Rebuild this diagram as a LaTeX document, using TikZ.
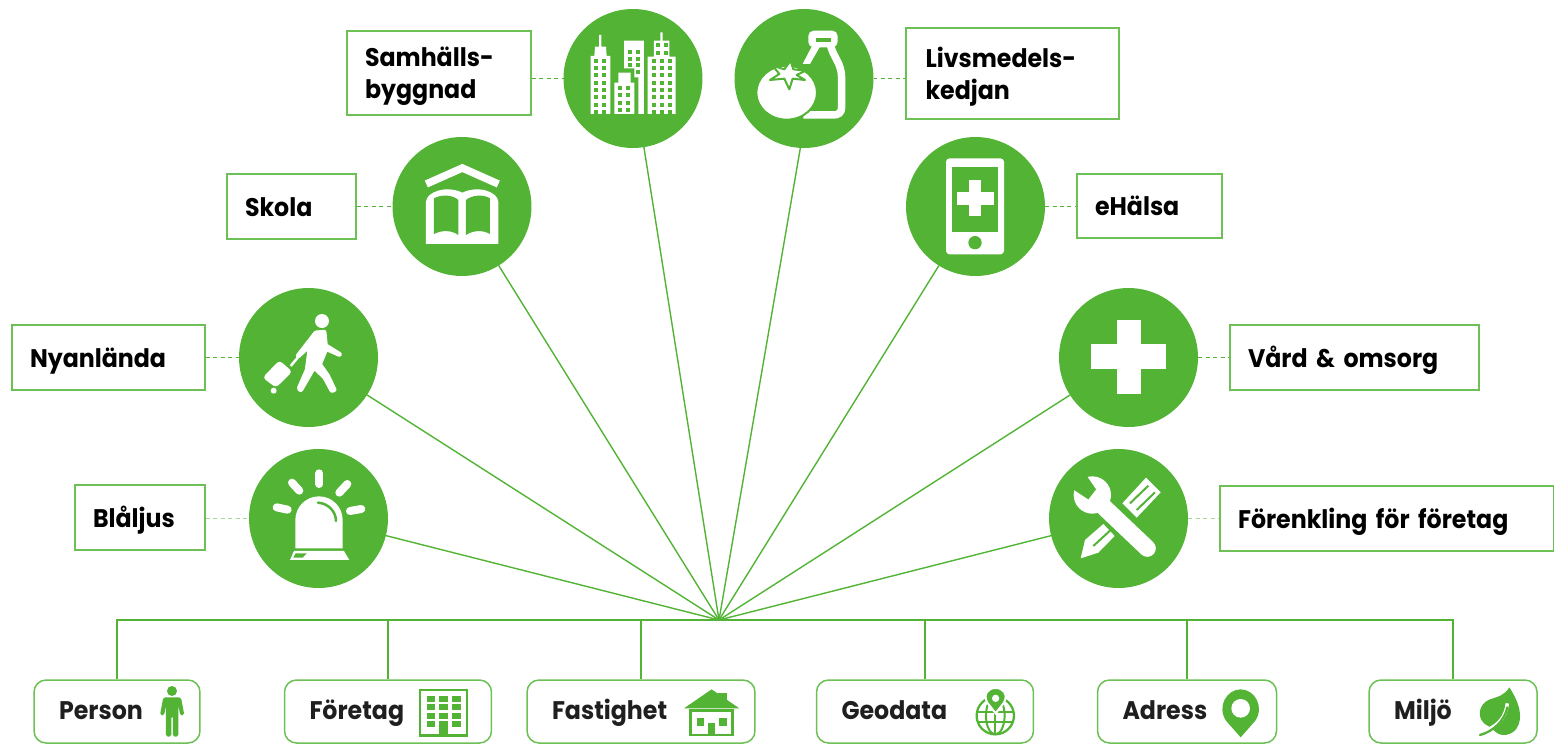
\documentclass[tikz,border=0pt]{standalone}
\usepackage{fontspec}
\setmainfont{Poppins}[FakeStretch=0.93]
\usetikzlibrary{calc}
\definecolor{leafgreen}{HTML}{52B335}
\definecolor{boxgreen}{HTML}{6CC055}
\definecolor{palegreen}{HTML}{A9D99A}
\tikzset{
	areadot/.style={circle, fill=leafgreen, minimum size=2.78cm, inner sep=0pt, outer sep=0pt},
	labelbox/.style={draw=boxgreen, line width=0.04cm, align=left, text width=#1, inner xsep=0.36cm, inner ysep=0pt, font=\bfseries\fontsize{14.5}{18.2}\selectfont},
	onerow/.style={minimum height=1.3cm, text height=0.6cm, text depth=0.22cm},
	databox/.style={draw=boxgreen, line width=0.03cm, rounded corners=0.24cm, align=left, text width=#1, inner xsep=0.5cm, inner ysep=0pt, minimum height=1.26cm, text height=0.5cm, text depth=0.2cm, text=black!88, font=\bfseries\fontsize{14.5}{18.2}\selectfont},
	spoke/.style={draw=leafgreen, line width=0.028cm},
	dotted link/.style={draw=leafgreen, line width=0.024cm, dash pattern=on 0.08cm off 0.07cm},
	pale link/.style={draw=palegreen, line width=0.024cm, dash pattern=on 0.08cm off 0.07cm},
}

\begin{document}
\begin{tikzpicture}[x=0.02cm, y=-0.02cm]
	%%%%% START %%%%%
	\useasboundingbox (0, 0) rectangle (1554, 744);

	\coordinate (hub) at (719, 620);

	\node[areadot] (samhall) at (633, 78.5) {};
	\node[areadot] (livsmedel) at (804, 78.5) {};
	\node[areadot] (skola) at (462, 206.5) {};
	\node[areadot] (ehalsa) at (975.5, 206.5) {};
	\node[areadot] (nyanlanda) at (308.5, 357.5) {};
	\node[areadot] (vard) at (1128.5, 357.5) {};
	\node[areadot] (blaljus) at (318.5, 518.5) {};
	\node[areadot] (forenkling) at (1118.5, 518.5) {};

	\node[labelbox=2.96cm, minimum height=1.68cm] (samhallbox) at (439, 73) {\rule{0pt}{0.53cm}Samhälls-\\byggnad};
	\node[labelbox=3.54cm, minimum height=1.82cm] (livsmedelbox) at (1012.5, 73.5) {\rule{0pt}{0.53cm}\hspace*{0.03cm}Livsmedels-\\\hspace*{0.03cm}kedjan};
	\node[labelbox=1.86cm, onerow] (skolabox) at (291.5, 206.5) {Skola};
	\node[labelbox=2.18cm, onerow] (ehalsabox) at (1149.5, 206) {eHälsa};
	\node[labelbox=3.14cm, onerow] (nyanlandabox) at (108.5, 357.5) {Nyanlända};
	\node[labelbox=4.26cm, onerow] (vardbox) at (1354.5, 357.5) {Vård \& omsorg};
	\node[labelbox=1.88cm, onerow] (blaljusbox) at (140, 517.5) {Blåljus};
	\node[labelbox=5.96cm, onerow] (forenklingbox) at (1387, 518.5) {Förenkling för företag};

	\node[databox=2.32cm] (person) at (117, 711.5) {Person};
	\node[databox=3.14cm] (foretag) at (388, 711.5) {Företag};
	\node[databox=3.56cm] (fastighet) at (641, 711.5) {Fastighet};
	\node[databox=3.34cm] (geodata) at (925, 711.5) {Geodata};
	\node[databox=2.58cm] (adress) at (1187, 711.5) {Adress};
	\node[databox=2.36cm] (miljo) at (1453, 711.5) {Miljö};

	\draw[spoke] (samhall) -- (hub);
	\draw[spoke] (livsmedel.267) -- (hub);
	\draw[spoke] (skola) -- (hub);
	\draw[spoke] (ehalsa) -- (hub);
	\draw[spoke] (nyanlanda) -- (hub);
	\draw[spoke] (vard) -- (hub);
	\draw[spoke] (blaljus) -- (hub);
	\draw[spoke] (forenkling) -- (hub);

	\draw[spoke] (person.north) |- (hub);
	\draw[spoke] (foretag.north) |- (hub);
	\draw[spoke] (fastighet.north) |- (hub);
	\draw[spoke] (geodata.north) |- (hub);
	\draw[spoke] (adress.north) |- (hub);
	\draw[spoke] (miljo.north) |- (hub);

	\draw[dotted link] (samhallbox.east |- samhall.west) -- (samhall.west);
	\draw[dotted link] (livsmedel.east) -- (livsmedelbox.west |- livsmedel.east);
	\draw[dotted link] (skolabox.east |- skola.west) -- (skola.west);
	\draw[dotted link] (ehalsa.east) -- (ehalsabox.west |- ehalsa.east);
	\draw[dotted link] (nyanlandabox.east |- nyanlanda.west) -- (nyanlanda.west);
	\draw[dotted link] (vard.east) -- (vardbox.west |- vard.east);
	\draw[pale link] (blaljusbox.east |- blaljus.west) -- (blaljus.west);
	\draw[pale link] (forenkling.east) -- (forenklingbox.west |- forenkling.east);

	% skyline
	\begin{scope}[shift={(540, 0)}, scale=0.3333]
		\fill[white] (152, 342) -- (152, 168) -- (163, 168) -- (165, 140) -- (177, 140) -- (177, 105) -- (184, 105) -- (184, 140) -- (198, 140) -- (200, 168) -- (211, 168) -- (211, 342) -- cycle;
		\fill[white] (223, 342) -- (223, 248) -- (235, 248) -- (235, 218) -- (272, 218) -- (272, 248) -- (283, 248) -- (283, 342) -- cycle;
		\fill[white] (252, 122) -- (312, 122) -- (312, 342) -- (295, 342) -- (295, 232) -- (283, 232) -- (283, 205) -- (252, 205) -- cycle;
		\fill[white] (323, 342) -- (323, 170) -- (342, 170) -- (342, 122) -- (361, 122) -- (361, 97) -- (368, 97) -- (368, 122) -- (388, 122) -- (388, 170) -- (407, 170) -- (407, 342) -- cycle;
		\foreach \col in {163, 187} \foreach \row in {176, 198, ..., 330} \fill[leafgreen] (\col, \row) rectangle ++(12, 12);
		\foreach \col in {233, 258} \foreach \row in {258, 280, ..., 330} \fill[leafgreen] (\col, \row) rectangle ++(12, 12);
		\foreach \col in {265, 289} \foreach \row in {150, 171, 190} \fill[leafgreen] (\col, \row) rectangle ++(12, 12);
		\fill[leafgreen] (289, 210) rectangle ++(12, 12);
		\foreach \col in {335, 359, 383} \foreach \row in {176, 198, ..., 330} \fill[leafgreen] (\col, \row) rectangle ++(12, 12);
		\foreach \col in {348, 372} \foreach \row in {130, 153} \fill[leafgreen] (\col, \row) rectangle ++(12, 12);
	\end{scope}

	% bottle and tomato
	\begin{scope}[shift={(540, 0)}, scale=0.3333]
		\fill[white, rounded corners=3pt] (805, 92) rectangle (893, 142);
		\fill[leafgreen] (828, 113) rectangle (872, 125);
		\fill[white] (815, 140) -- (840, 140) -- (810, 192) -- (788, 192) -- cycle;
		\draw[white, line width=0.15cm] (872, 138) .. controls (882, 175) and (905, 190) .. (905, 235) -- (905, 322) .. controls (905, 338) and (895, 345) .. (880, 345) -- (790, 345);
		\fill[white, draw=leafgreen, line width=0.04cm] (740, 278) ellipse (91 and 81);
		\filldraw[white, draw=leafgreen, line width=0.04cm, line join=round] (698, 197) -- (733, 208) -- (752, 182) -- (760, 208) -- (797, 212) -- (770, 225) -- (795, 240) -- (758, 236) -- (748, 268) -- (733, 236) -- (690, 240) -- (718, 222) -- cycle;
	\end{scope}

	% book under roof
	\begin{scope}[shift={(230, 130)}, scale=0.3333]
		\draw[white, line width=0.15cm] (589, 162) -- (697, 114) -- (805, 162);
		\fill[white] (588, 342) -- (588, 215) .. controls (590, 185) and (650, 165) .. (697, 188) .. controls (745, 165) and (803, 185) .. (805, 215) -- (805, 342) -- cycle;
		\fill[leafgreen] (612, 205) .. controls (635, 192) and (670, 195) .. (685, 210) -- (685, 315) .. controls (665, 300) and (635, 300) .. (612, 312) -- cycle;
		\fill[leafgreen] (708, 210) .. controls (725, 195) and (760, 192) .. (780, 205) -- (780, 312) .. controls (760, 300) and (730, 300) .. (708, 315) -- cycle;
	\end{scope}

	% walker
	\begin{scope}[shift={(250, 305)}, scale=0.3333]
		\fill[white] (216, 48) circle (21);
		\filldraw[white, draw=white, line width=0.1cm, line join=round] (198, 84) -- (222, 82) -- (226, 122) -- (268, 148) -- (228, 130) -- (208, 178) -- (232, 212) -- (252, 254) -- (246, 256) -- (225, 217) -- (192, 185) -- (152, 254) -- (148, 250) -- (172, 195) -- (182, 118) -- (145, 152) -- cycle;
		\fill[white, rounded corners=2pt] (88, 166) -- (127, 200) -- (78, 248) -- (38, 218) -- cycle;
		\draw[white, line width=0.05cm] (122, 183) -- (143, 158);
		\fill[white] (71, 257) circle (9);
	\end{scope}

	% phone
	\begin{scope}[shift={(900, 130)}, scale=0.3333]
		\fill[white, rounded corners=2pt] (138, 85) rectangle (312, 373);
		\fill[leafgreen] (157, 110) rectangle (294, 305);
		\fill[white] (170, 186) rectangle (281, 224);
		\fill[white] (207, 149) rectangle (244, 259);
		\fill[leafgreen] (225, 338) circle (20);
	\end{scope}

	% cross
	\fill[white] (1091.3, 344.3) rectangle (1165.7, 369);
	\fill[white] (1116.7, 319.7) rectangle (1141, 394);

	% beacon
	\begin{scope}[shift={(240, 440)}, scale=0.3333]
		\fill[white] (166, 325) -- (166, 240) arc (180:360:71) -- (308, 325) -- cycle;
		\draw[leafgreen, line width=0.05cm, line cap=round] (234, 188) .. controls (265, 190) and (288, 215) .. (288, 243);
		\fill[white] (150, 360) -- (162, 333) -- (312, 333) -- (328, 360) -- cycle;
		\fill[leafgreen] (160, 353) -- (167, 340) -- (200, 340) -- (188, 353) -- cycle;
		\draw[white, line width=0.16cm, line cap=round] (238, 100) -- (238, 132);
		\draw[white, line width=0.16cm, line cap=round] (156, 128) -- (178, 152);
		\draw[white, line width=0.16cm, line cap=round] (322, 132) -- (298, 158);
		\draw[white, line width=0.16cm, line cap=round] (110, 202) -- (143, 209);
		\draw[white, line width=0.16cm, line cap=round] (364, 207) -- (330, 213);
	\end{scope}

	% wrench and pencil
	\begin{scope}[shift={(1040, 440)}, scale=0.3333]
		\fill[white] (318, 113) -- (362, 157) -- (290, 233) -- (247, 190) -- cycle;
		\draw[leafgreen, line width=0.04cm] (270, 190) -- (325, 137);
		\draw[leafgreen, line width=0.04cm] (290, 210) -- (345, 157);
		\fill[white] (190, 252) -- (224, 288) -- (175, 338) -- (122, 355) -- (135, 300) -- cycle;
		\draw[leafgreen, line width=0.04cm] (160, 318) -- (210, 272);
		\draw[leafgreen, line width=0.42cm] (160, 170) -- (322, 325);
		\draw[white, line width=0.34cm, line cap=round] (185, 195) -- (322, 325);
		\fill[white] (157, 165) circle (56);
		\fill[leafgreen] (135, 100) -- (168, 148) -- (145, 178) -- (96, 146) -- (85, 100) -- cycle;
	\end{scope}

	% man
	\begin{scope}[shift={(0, 670)}, scale=0.3333]
		\fill[leafgreen] (516, 63) circle (15);
		\fill[leafgreen, rounded corners=1pt] (490, 82) -- (543, 82) -- (553, 135) -- (541, 137) -- (535, 105) -- (535, 200) -- (519, 200) -- (519, 138) -- (514, 138) -- (514, 200) -- (498, 200) -- (498, 105) -- (492, 137) -- (480, 135) -- cycle;
	\end{scope}

	% office block
	\begin{scope}[shift={(0, 670)}, scale=0.3333]
		\draw[leafgreen, line width=0.055cm] (1260, 60) rectangle (1401, 196);
		\foreach \col in {1280, 1318, 1357} \foreach \row in {77, 103, 128} \fill[leafgreen] (\col, \row) rectangle ++(25, 18);
		\foreach \col in {1280, 1357} \fill[leafgreen] (\col, 153) rectangle ++(25, 18);
		\fill[leafgreen] (1318, 153) rectangle (1343, 196);
	\end{scope}

	% house
	\begin{scope}[shift={(520, 670)}, scale=0.3333]
		\fill[leafgreen] (595, 68) rectangle (620, 95);
		\fill[leafgreen] (492, 115) -- (575, 58) -- (658, 115) -- cycle;
		\draw[leafgreen, line width=0.055cm] (512, 122) rectangle (637, 195);
		\fill[leafgreen] (530, 145) rectangle (552, 167);
		\fill[leafgreen] (597, 145) rectangle (620, 167);
		\fill[leafgreen] (563, 160) rectangle (585, 197);
	\end{scope}

	% globe with pin
	\begin{scope}[shift={(520, 670)}, scale=0.3333]
		\draw[leafgreen, line width=0.045cm] (1426, 137) circle (56);
		\draw[leafgreen, line width=0.04cm] (1426, 137) ellipse (28 and 56);
		\draw[leafgreen, line width=0.04cm] (1426, 81) -- (1426, 193);
		\draw[leafgreen, line width=0.04cm] (1372, 125) -- (1480, 125);
		\draw[leafgreen, line width=0.04cm] (1372, 155) -- (1480, 155);
		\filldraw[leafgreen, draw=white, line width=0.04cm] (1427, 130) -- (1402, 98) .. controls (1388, 72) and (1405, 54) .. (1427, 54) .. controls (1449, 54) and (1466, 72) .. (1452, 98) -- cycle;
		\fill[white] (1427, 85) circle (11);
	\end{scope}

	% map pin
	\begin{scope}[shift={(1040, 670)}, scale=0.3333]
		\fill[leafgreen] (602, 202) -- (558, 152) .. controls (530, 110) and (560, 58) .. (602, 58) .. controls (644, 58) and (674, 110) .. (646, 152) -- cycle;
		\fill[white] (602, 115) circle (28);
	\end{scope}

	% leaf
	\begin{scope}[shift={(1040, 670)}, scale=0.3333]
		\fill[leafgreen] (1408, 52) .. controls (1440, 100) and (1450, 145) .. (1430, 175) .. controls (1415, 197) and (1385, 200) .. (1370, 188) -- (1345, 168) .. controls (1305, 150) and (1315, 100) .. (1350, 88) .. controls (1375, 80) and (1395, 75) .. (1408, 52) -- cycle;
		\draw[white, line width=0.07cm] (1345, 178) .. controls (1375, 165) and (1398, 140) .. (1402, 100);
		\draw[leafgreen, line width=0.045cm, line cap=round] (1320, 195) .. controls (1360, 185) and (1395, 150) .. (1402, 112);
	\end{scope}
	%%%%% END %%%%%
\end{tikzpicture}
\end{document}
